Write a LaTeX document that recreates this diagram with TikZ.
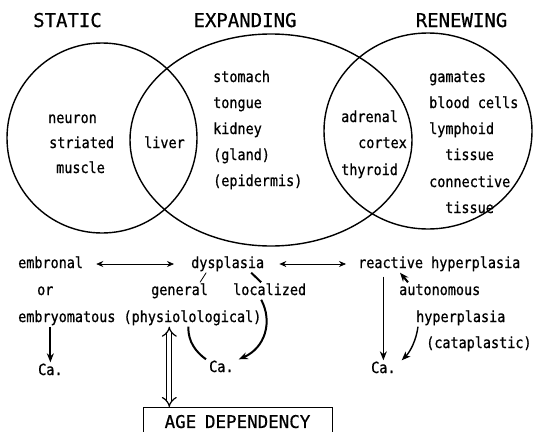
\documentclass[tikz,border=0pt]{standalone}
\usepackage{fontspec}
\setmainfont{DejaVu Sans Mono}[FakeStretch=0.88, FakeBold=0.8]
\newfontfamily\headfont{DejaVu Sans Mono}[FakeBold=0.6]
\usetikzlibrary{arrows.meta}

\begin{document}
\begin{tikzpicture}[x=1pt, y=-1pt,
    lbl/.style={font=\fontsize{15.3}{18}\selectfont, anchor=base west, inner sep=1pt,
      text height=11.5pt, text depth=3.5pt},
    hd/.style={font=\headfont\fontsize{19}{22}\selectfont, anchor=base, inner sep=1pt},
    ring/.style={line width=1.4pt},
    link/.style={line width=0.7pt, {Stealth[length=7pt,width=6pt]}-{Stealth[length=7pt,width=6pt]}},
    push/.style={line width=2pt, -{Stealth[length=9pt,width=7pt]}},
    bar/.style={line width=2pt}]
  \useasboundingbox (0,0) rectangle (537,431);

  \node[hd] (static) at (67.5,27) {STATIC};
  \node[hd] (expanding) at (245,27) {EXPANDING};
  \node[hd] (renewing) at (461.5,27) {RENEWING};

  \draw[ring] (102,138) circle [radius=95pt];
  \draw[ring] (271,140) ellipse [x radius=141pt, y radius=106pt];
  \draw[ring] (428,131) ellipse [x radius=104pt, y radius=98pt];

  \node[lbl] (neuron) at (47,123) {neuron};
  \node[lbl] (striated) at (48,148) {striated};
  \node[lbl] (muscle) at (55,173) {muscle};
  \node[lbl] (liver) at (143,148) {liver};

  \node[lbl] (stomach) at (212,82) {stomach};
  \node[lbl] (tongue) at (212,108) {tongue};
  \node[lbl] (kidney) at (212,134) {kidney};
  \node[lbl] (gland) at (212,160) {(gland)};
  \node[lbl] (epidermis) at (212,186) {(epidermis)};

  \node[lbl] (adrenal) at (340,122) {adrenal};
  \node[lbl] (cortex) at (357,148) {cortex};
  \node[lbl] (thyroid) at (340,175) {thyroid};

  \node[lbl] (gamates) at (428,82) {gamates};
  \node[lbl] (blood) at (428,108) {blood cells};
  \node[lbl] (lymphoid) at (428,134) {lymphoid};
  \node[lbl] (tissuea) at (444,160) {tissue};
  \node[lbl] (connective) at (428,187) {connective};
  \node[lbl] (tissueb) at (444,213) {tissue};

  \node[lbl] (embronal) at (17,268) {embronal};
  \node[lbl] (or) at (36,295) {or};
  \node[lbl] (embryo) at (17,322) {embryomatous (physiolological)};
  \node[lbl] (caL) at (37,375) {Ca.};
  \node[lbl] (dysplasia) at (190,268) {dysplasia};
  \node[lbl] (general) at (150,295) {general};
  \node[lbl] (localized) at (232,295) {localized};
  \node[lbl] (caM) at (208,372) {Ca.};
  \node[lbl] (reactive) at (357,268) {reactive hyperplasia};
  \node[lbl] (autonomous) at (398,295) {autonomous};
  \node[lbl] (hyperplasia) at (415,322) {hyperplasia};
  \node[lbl] (cataplastic) at (425,348) {(cataplastic)};
  \node[lbl] (caR) at (370,373) {Ca.};
  \node[draw, line width=0.9pt, font=\headfont\fontsize{17.5}{20}\selectfont, anchor=north,
    minimum width=189pt, inner ysep=8pt, text height=12.5pt, text depth=0pt]
    (age) at (237.5,407) {AGE\hspace{0.5em}DEPENDENCY};

  \draw[link, shorten <=12pt, shorten >=16pt] (embronal.east) -- (dysplasia.west);
  \draw[link, shorten <=14pt, shorten >=11pt] (dysplasia.east) -- (reactive.west);
  \draw[line width=0.8pt] ([xshift=-21.5pt]dysplasia.south) -- ([xshift=20.5pt]general.north);
  \draw[bar] ([xshift=23.5pt]dysplasia.south) -- ([xshift=-8.5pt]localized.north);
  \draw[push] ([xshift=-8.5pt]localized.south) .. controls (273,322) and (265,348) .. ([xshift=4pt]caM.north east);
  \draw[bar] ([xshift=48.5pt]embryo.south) .. controls (188,342) and (196,352) .. ([xshift=-2pt]caM.north west);
  \draw[push] (caL.north |- embryo.south) -- (caL.north);
  \draw[double, double distance=4pt, line width=1.2pt, {Implies}-{Implies}]
    ([xshift=29.5pt]embryo.south) -- ([xshift=29.5pt]embryo.south |- age.north);
  \draw[line width=1.4pt, -{Stealth[length=9pt,width=7pt]}, shorten <=4pt] (caR.north |- reactive.south) -- (caR.north);
  \draw[push] ([xshift=10pt]autonomous.north west) -- ([xshift=43pt]reactive.south west);
  \draw[line width=1.4pt, -{Stealth[length=9pt,width=7pt]}] ([xshift=3pt]hyperplasia.south west)
    .. controls (416,341) and (410,352) .. ([xshift=5pt]caR.north east);
\end{tikzpicture}
\end{document}
